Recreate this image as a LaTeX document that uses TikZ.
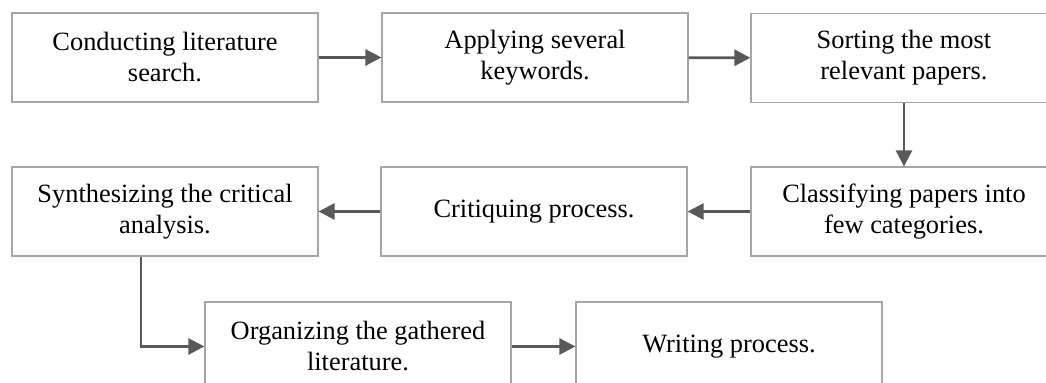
\documentclass[tikz,border=0pt]{standalone}
\usepackage{fontspec}
\setmainfont{Liberation Serif}
\usetikzlibrary{arrows.meta}
\definecolor{boxgray}{HTML}{A6A6A6}
\definecolor{arrowgray}{HTML}{595959}
\begin{document}
\begin{tikzpicture}[x=0.5pt,y=-0.5pt,
  stepbox/.style={draw=boxgray,line width=0.6pt,minimum width=153pt,minimum height=44.5pt,
    align=center,inner sep=0pt,font=\fontsize{13.2}{15.5}\selectfont},
  flow/.style={draw=arrowgray,line width=1.35pt,-{Triangle[length=8pt,width=8pt]}}]
\clip (0,0) rectangle (1046,383);
\node[stepbox] (search) at (165,57.5) {Conducting literature\\search.};
\node[stepbox] (keywords) at (535,57.5) {Applying several\\keywords.};
\node[stepbox] (sorting) at (904,58) {Sorting the most\\relevant papers.};
\node[stepbox] (classify) at (904,211.5) {Classifying papers into\\few categories.};
\node[stepbox] (critique) at (534,211.5) {Critiquing process.};
\node[stepbox] (synth) at (165,211.5) {Synthesizing the critical\\analysis.};
\node[stepbox] (organize) at (358,346.5) {Organizing the gathered\\literature.};
\node[stepbox] (writing) at (729,346.5) {Writing process.};
\draw[flow] (search) -- (keywords);
\draw[flow] (keywords) -- (sorting);
\draw[flow] (sorting) -- (classify);
\draw[flow] (classify) -- (critique);
\draw[flow] (critique) -- (synth);
\draw[flow] ([xshift=-12pt]synth.south) |- (organize.west);
\draw[flow] (organize) -- (writing);
\end{tikzpicture}
\end{document}
